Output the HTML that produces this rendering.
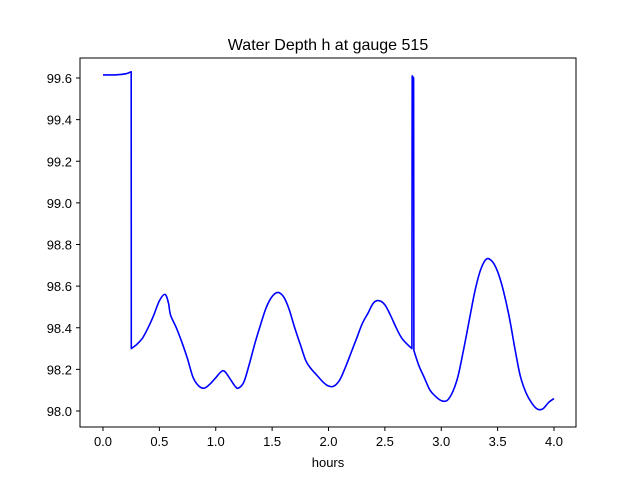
<!DOCTYPE html>
<html><head><meta charset="utf-8"><style>
body{margin:0;background:#fff;}
svg{display:block;font-family:"Liberation Sans","DejaVu Sans",sans-serif;}
</style></head><body>
<svg id="chart" width="640" height="480">
<rect width="640" height="480" fill="#fff"/>
<text x="328" y="50" text-anchor="middle" font-size="16">Water Depth h at gauge 515</text>
<g id="ticks"></g>
<path id="line" fill="none" stroke="#0000ff" stroke-width="1.6" stroke-linejoin="round"/>
<rect x="80" y="58" width="496" height="369" fill="none" stroke="#000" stroke-width="1"/>
<text x="328" y="467" text-anchor="middle" font-size="13">hours</text>
</svg>
<script>
const hours=[0,0.1,0.2,0.25,0.251,0.3,0.35,0.4,0.45,0.5,0.55,0.58,0.6,0.65,0.7,0.75,0.8,0.85,0.9,0.95,1.0,1.05,1.08,1.12,1.17,1.2,1.25,1.3,1.35,1.4,1.45,1.5,1.55,1.6,1.65,1.7,1.75,1.8,1.85,1.9,1.95,2.0,2.05,2.1,2.15,2.2,2.25,2.3,2.35,2.4,2.45,2.5,2.55,2.6,2.65,2.7,2.74,2.742,2.755,2.757,2.8,2.85,2.9,2.95,3.0,3.05,3.1,3.15,3.2,3.25,3.3,3.35,3.4,3.45,3.5,3.55,3.6,3.65,3.7,3.75,3.8,3.85,3.9,3.95,4.0];
const depth=[99.615,99.615,99.62,99.63,98.30,98.32,98.35,98.40,98.46,98.53,98.56,98.52,98.46,98.40,98.33,98.25,98.16,98.12,98.11,98.13,98.16,98.19,98.19,98.16,98.12,98.11,98.14,98.23,98.33,98.42,98.50,98.55,98.57,98.55,98.49,98.40,98.32,98.24,98.20,98.17,98.14,98.12,98.12,98.15,98.21,98.28,98.35,98.42,98.47,98.52,98.53,98.51,98.46,98.40,98.35,98.32,98.30,99.61,99.60,98.29,98.22,98.16,98.10,98.07,98.05,98.05,98.09,98.17,98.30,98.44,98.58,98.68,98.73,98.72,98.67,98.58,98.46,98.31,98.17,98.09,98.04,98.01,98.01,98.04,98.06];
const xTicks=[0,0.5,1.0,1.5,2.0,2.5,3.0,3.5,4.0];
const yTicks=[98.0,98.2,98.4,98.6,98.8,99.0,99.2,99.4,99.6];
const X=v=>103+v*112.75;
const Y=v=>411-(v-98.0)*208.125;
const NS="http://www.w3.org/2000/svg";
const g=document.getElementById('ticks');
function mk(tag,attrs){const e=document.createElementNS(NS,tag);for(const k in attrs)e.setAttribute(k,attrs[k]);return e;}
xTicks.forEach(t=>{
 const l=mk('line',{x1:X(t),x2:X(t),y1:427,y2:431,stroke:'#000'});
 
 
 g.appendChild(l);
 const tx=mk('text',{x:X(t),y:446,'text-anchor':'middle','font-size':'13'});
 
 
 tx.textContent=t.toFixed(1);g.appendChild(tx);
});
yTicks.forEach(t=>{
 const l=mk('line',{x1:76,x2:80,y1:Y(t),y2:Y(t),stroke:'#000'});
 
 
 g.appendChild(l);
 const tx=mk('text',{x:72,y:Y(t)+5,'text-anchor':'end','font-size':'13'});
 
 
 tx.textContent=t.toFixed(1);g.appendChild(tx);
});
// smooth path: Catmull-Rom within segments, straight at jumps
const P=hours.map((h,i)=>[X(h),Y(depth[i])]);
const segs=[];let cur=[P[0]];
for(let i=1;i<P.length;i++){
 if(Math.abs(P[i][1]-P[i-1][1])>100){segs.push(cur);cur=[P[i]];}
 else cur.push(P[i]);
}
segs.push(cur);
let d='';
segs.forEach((s,si)=>{
 d+=(si?'L':'M')+s[0][0].toFixed(1)+','+s[0][1].toFixed(1);
 for(let i=0;i<s.length-1;i++){
  const p0=s[i-1]||s[i],p1=s[i],p2=s[i+1],p3=s[i+2]||s[i+1];
  const c1=[p1[0]+(p2[0]-p0[0])/6,p1[1]+(p2[1]-p0[1])/6];
  const c2=[p2[0]-(p3[0]-p1[0])/6,p2[1]-(p3[1]-p1[1])/6];
  d+='C'+c1[0].toFixed(1)+','+c1[1].toFixed(1)+' '+c2[0].toFixed(1)+','+c2[1].toFixed(1)+' '+p2[0].toFixed(1)+','+p2[1].toFixed(1);
 }
});
document.getElementById('line').setAttribute('d',d);
</script>
</body></html>
